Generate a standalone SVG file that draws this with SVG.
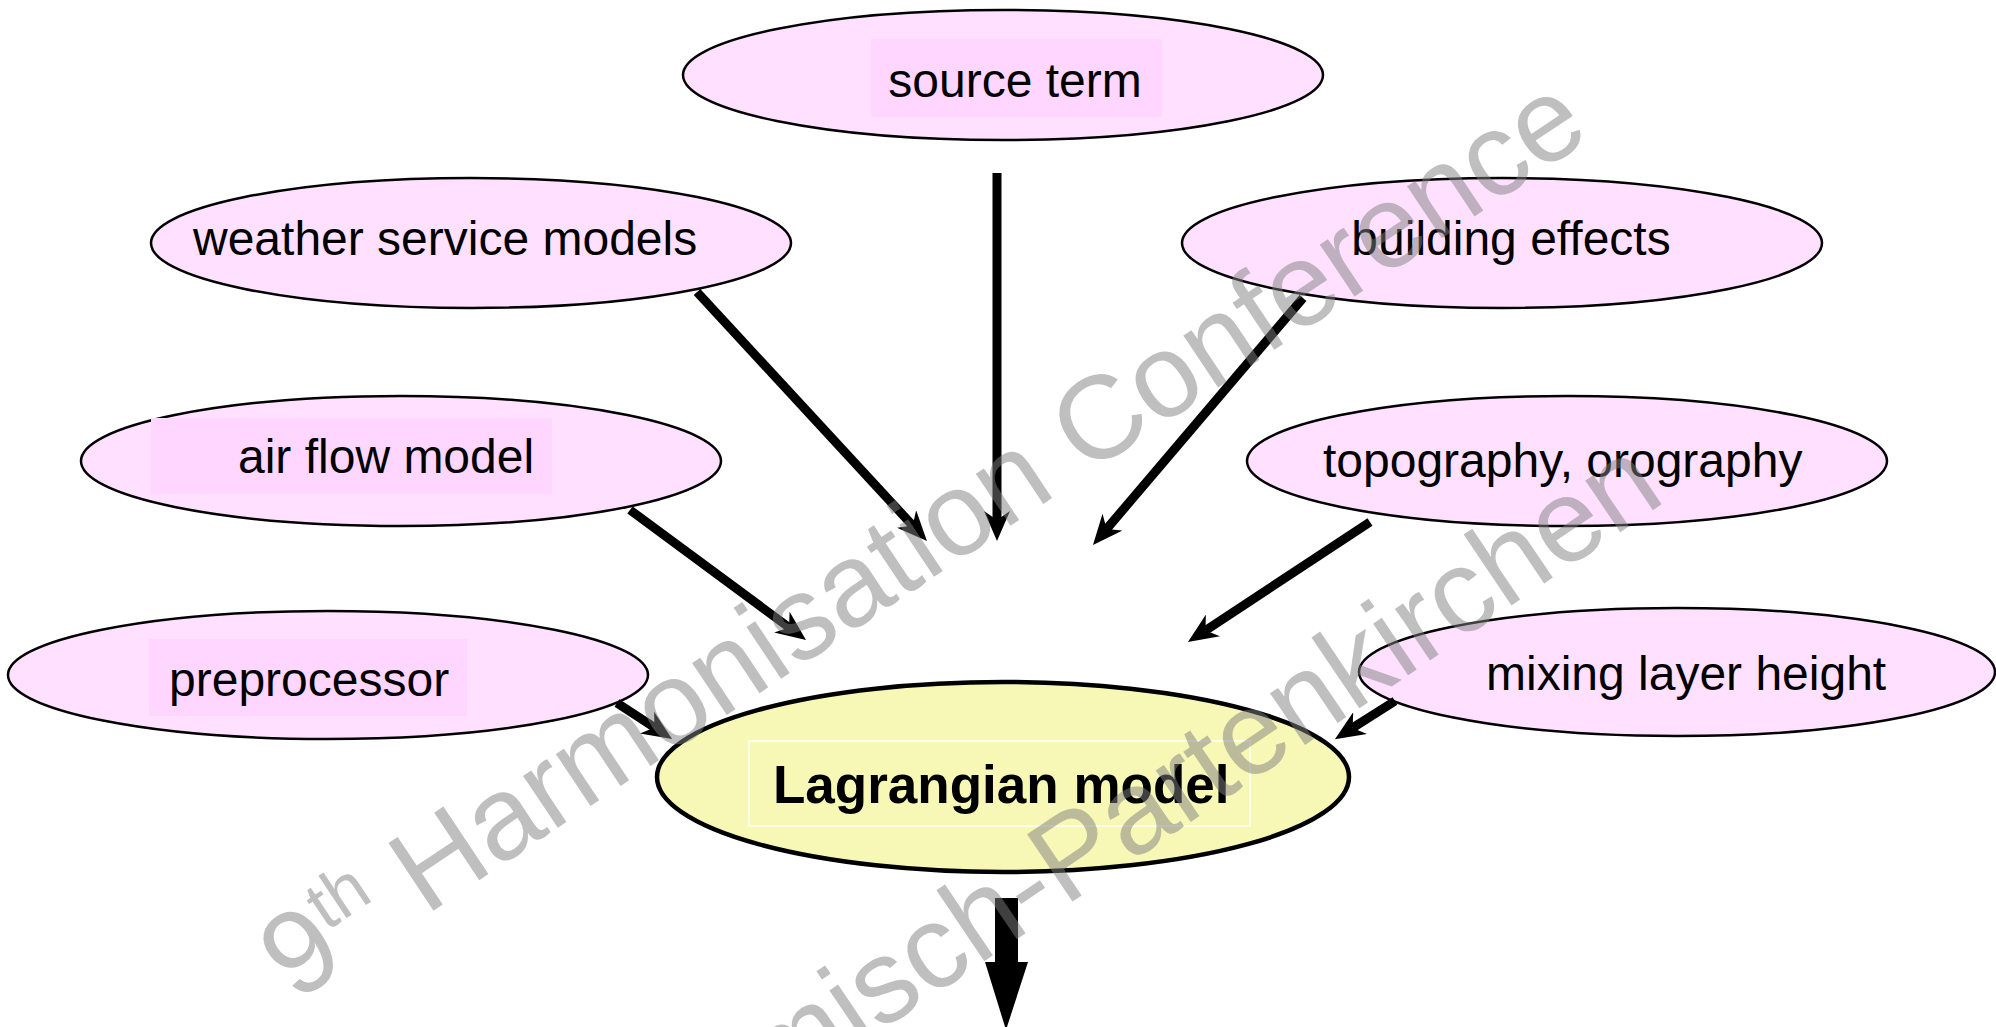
<svg xmlns="http://www.w3.org/2000/svg" width="1996" height="1027" viewBox="0 0 1996 1027">
<style>
  .in ellipse { fill: #FFE1FF; stroke: #000; stroke-width: 2.5; }
  .hl { fill: #FFD6FF; }
  .lbl { font-family: "Liberation Sans", Arial, sans-serif; font-size: 48px; fill: #000; }
  .main ellipse { fill: #F7F7B6; stroke: #000; stroke-width: 4.5; }
  .mainlbl { font-family: "Liberation Sans", Arial, sans-serif; font-size: 53px; font-weight: bold; fill: #000; }
  .conn line { stroke: #000; stroke-width: 9; marker-end: url(#ah); }
  .wm { font-family: "Liberation Sans", Arial, sans-serif; font-size: 118px; fill: #808080; fill-opacity: 0.5; }
</style>
<defs>
  <marker id="ah" markerUnits="userSpaceOnUse" viewBox="0 0 30 26" refX="9" refY="13" markerWidth="30" markerHeight="26" orient="auto">
    <path d="M0,0 L30,13 L0,26 L9,13 z" fill="#000"/>
  </marker>
</defs>
<rect x="0" y="0" width="1996" height="1027" fill="#fff"/>

<g id="source-term" class="in">
  <ellipse cx="1003" cy="75" rx="320" ry="65"/>
  <rect class="hl" x="871" y="39" width="291" height="78"/>
  <text class="lbl" x="1015" y="97" text-anchor="middle">source term</text>
</g>
<g id="weather-service-models" class="in">
  <ellipse cx="471" cy="243" rx="320" ry="65"/>
  <text class="lbl" x="193" y="255">weather service models</text>
</g>
<g id="building-effects" class="in">
  <ellipse cx="1502" cy="243" rx="320" ry="65"/>
  <text class="lbl" x="1511" y="255" text-anchor="middle">building effects</text>
</g>
<g id="air-flow-model" class="in">
  <ellipse cx="401" cy="461" rx="320" ry="65"/>
  <rect class="hl" x="151" y="418" width="401" height="76"/>
  <text class="lbl" x="238" y="473">air flow model</text>
</g>
<g id="topography-orography" class="in">
  <ellipse cx="1567" cy="461" rx="320" ry="65"/>
  <text class="lbl" x="1323" y="477">topography, orography</text>
</g>
<g id="preprocessor" class="in">
  <ellipse cx="328" cy="675" rx="320" ry="64"/>
  <rect class="hl" x="149" y="639" width="318" height="77"/>
  <text class="lbl" x="169" y="696">preprocessor</text>
</g>
<g id="mixing-layer-height" class="in">
  <ellipse cx="1677" cy="672" rx="318" ry="64"/>
  <text class="lbl" x="1486" y="690">mixing layer height</text>
</g>
<g id="lagrangian-model" class="main">
  <ellipse cx="1003" cy="777" rx="346" ry="95"/>
  <rect x="749" y="741" width="501" height="85" fill="none" stroke="#fff" stroke-width="1.5"/>
  <text class="mainlbl" x="773" y="803">Lagrangian model</text>
</g>

<g id="connectors" class="conn">
  <line x1="997" y1="173" x2="997" y2="520"/>
  <line x1="697" y1="292" x2="912.7" y2="525.6"/>
  <line x1="630" y1="510" x2="789.1" y2="627.5"/>
  <line x1="617" y1="703" x2="654.5" y2="727.5"/>
  <line x1="1303" y1="298" x2="1106.6" y2="529.0"/>
  <line x1="1370" y1="522" x2="1205.5" y2="630.4"/>
  <line x1="1395" y1="701" x2="1352.6" y2="727.9"/>
  <path d="M995,898 L1018,898 L1018,962 L1028,962 L1006,1030 L985,962 L995,962 z" fill="#000"/>
</g>

<g id="watermark">
  <text class="wm" transform="translate(295,1003) rotate(-33.7)">9<tspan font-size="70" dy="-42">th</tspan><tspan dy="42"> Harmonisation Conference</tspan></text>
  <text class="wm" transform="translate(1668,500) rotate(-34)" text-anchor="end">Garmisch-Partenkirchen</text>
</g>
</svg>
